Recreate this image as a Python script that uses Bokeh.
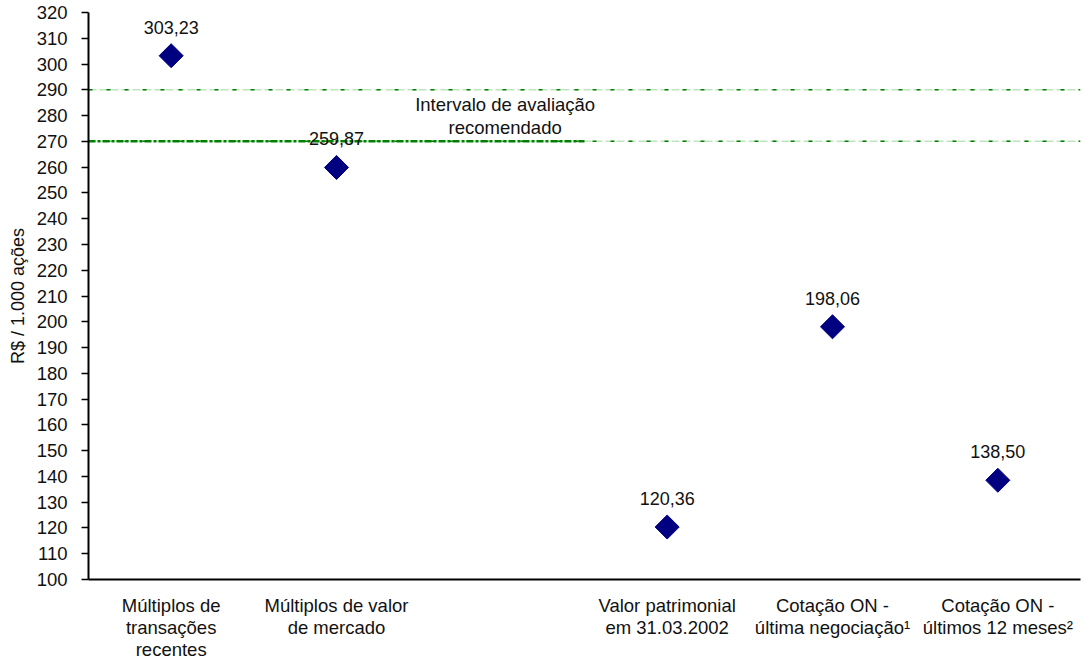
from bokeh.plotting import figure
from bokeh.models import ColumnDataSource, FixedTicker
from bokeh.embed import file_html
from bokeh.resources import INLINE
from bokeh.core.properties import value
import math

categories = ["Múltiplos de\ntransações\nrecentes", "Múltiplos de valor\nde mercado", "",
              "Valor patrimonial\nem 31.03.2002", "Cotação ON -\núltima negociação¹",
              "Cotação ON -\núltimos 12 meses²"]
values = [303.23, 259.87, None, 120.36, 198.06, 138.50]
labels = ["303,23", "259,87", "", "120,36", "198,06", "138,50"]
range_low = 270
range_high = 290
range_label = "Intervalo de avaliação\nrecomendado"
y_ticks = list(range(100, 330, 10))

FONT = "Liberation Sans"
FS = "18.5px"

xs = [i + 0.5 for i, v in enumerate(values) if v is not None]
ys = [v for v in values if v is not None]
ls = [labels[i] for i, v in enumerate(values) if v is not None]
src = ColumnDataSource(dict(x=xs, y=ys, lab=ls))

p = figure(width=1083, height=663, x_range=(0, len(categories)), y_range=(100, 320),
           output_backend="svg", toolbar_location=None,
           min_border_left=88, min_border_right=3, min_border_top=12, min_border_bottom=84)
p.outline_line_color = None
p.xgrid.visible = False
p.ygrid.visible = False

# recommended range lines
n = len(categories)
p.line([0, n], [range_high, range_high], line_color="#bfe3bf", line_width=1.5, line_dash="8 3")
p.line([0, n], [range_high, range_high], line_color="#008000", line_width=1.5, line_dash="4 14")
p.line([0, n], [range_low, range_low], line_color="#bfe3bf", line_width=1.5, line_dash="8 3")
p.line([0, n], [range_low, range_low], line_color="#008000", line_width=1.5, line_dash="4 14")
p.line([0, 3], [range_low, range_low], line_color="#008000", line_width=2.5, line_dash="7 2 3 2")

p.text(x=[2.52], y=[(range_low + range_high) / 2], text=[range_label], text_align="center",
       text_baseline="middle", text_font=value(FONT), text_font_size=FS, text_color="#111111",
       text_line_height=1.1)

p.scatter("x", "y", source=src, marker="square", angle=math.pi / 4, size=17,
          fill_color="#000080", line_color="#000080")
p.text("x", "y", text="lab", source=src, y_offset=-22, text_align="center", text_baseline="bottom",
       text_font=value(FONT), text_font_size="18px", text_color="#111111")

p.xaxis.ticker = FixedTicker(ticks=[i + 0.5 for i in range(n)])
p.xaxis.major_label_overrides = {i + 0.5: c for i, c in enumerate(categories)}
p.xaxis.major_tick_line_color = None
p.xaxis.major_tick_out = 0
p.xaxis.major_tick_in = 0
p.xaxis.minor_tick_line_color = None
p.xaxis.axis_line_width = 2
p.xaxis.axis_line_color = "black"
p.xaxis.major_label_text_font = FONT
p.xaxis.major_label_text_font_size = FS
p.xaxis.major_label_text_color = "#111111"
p.xaxis.major_label_text_line_height = 1.07
p.xaxis.major_label_standoff = 15

p.yaxis.ticker = FixedTicker(ticks=y_ticks)
p.yaxis.minor_tick_line_color = None
p.yaxis.major_tick_in = 0
p.yaxis.major_tick_out = 7
p.yaxis.major_tick_line_width = 1.5
p.yaxis.axis_line_width = 2
p.yaxis.axis_line_color = "black"
p.yaxis.major_label_text_font = FONT
p.yaxis.major_label_text_font_size = "18.5px"
p.yaxis.major_label_text_color = "#111111"
p.yaxis.major_label_standoff = 14
p.yaxis.axis_label = "R$ / 1.000 ações"
p.yaxis.axis_label_text_font = FONT
p.yaxis.axis_label_text_font_style = "normal"
p.yaxis.axis_label_text_font_size = "18px"
p.yaxis.axis_label_text_color = "#111111"
p.yaxis.axis_label_standoff = 6

open("out.html", "w").write(file_html(p, INLINE))
